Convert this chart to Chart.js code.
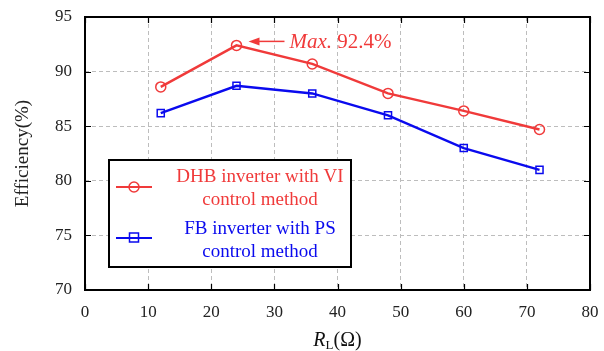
<!DOCTYPE html>
<html>
<head>
<meta charset="utf-8">
<script src="https://cdn.jsdelivr.net/npm/chart.js@4"></script>
<style>
  html, body { margin: 0; padding: 0; background: #fff; }
  #wrap { width: 604px; height: 351px; }
</style>
</head>
<body>
<div id="wrap"><canvas id="chart"></canvas></div>
<script>
// data
const loads = [12, 24, 36, 48, 60, 72];
const dhbEff = [88.6, 92.4, 90.7, 88.0, 86.4, 84.7];
const fbEff = [86.2, 88.7, 88.0, 86.0, 83.0, 81.0];
const xTicks = [0, 10, 20, 30, 40, 50, 60, 70, 80];
const yTicks = [70, 75, 80, 85, 90, 95];
const seriesNames = [['DHB inverter with VI', 'control method'], ['FB inverter with PS', 'control method']];

const RED = '#f03a3a';
const BLUE = '#0a0aee';
const SERIF = '"Liberation Serif", "Times New Roman", serif';

// box, inward ticks, axis title, annotation and legend
const decorations = {
  id: 'decorations',
  afterDraw(chart) {
    const ctx = chart.ctx;
    const { left, right, top, bottom } = chart.chartArea;
    const xs = chart.scales.x, ys = chart.scales.y;
    ctx.save();

    // inward tick marks on all four sides
    ctx.strokeStyle = '#000';
    ctx.lineWidth = 1.2;
    ctx.beginPath();
    xTicks.forEach(v => {
      const px = Math.round(xs.getPixelForValue(v)) + 0.5;
      ctx.moveTo(px, bottom); ctx.lineTo(px, bottom - 6);
      ctx.moveTo(px, top); ctx.lineTo(px, top + 6);
    });
    yTicks.forEach(v => {
      const py = Math.round(ys.getPixelForValue(v)) + 0.5;
      ctx.moveTo(left, py); ctx.lineTo(left + 6, py);
      ctx.moveTo(right, py); ctx.lineTo(right - 6, py);
    });
    ctx.stroke();

    // frame
    ctx.lineWidth = 2;
    ctx.strokeRect(left, top, right - left, bottom - top);

    // x axis title: R_L(Ω)
    ctx.fillStyle = '#111';
    ctx.textBaseline = 'alphabetic';
    const cx = (left + right) / 2;
    const by = 346;
    ctx.font = 'italic 20px ' + SERIF;
    const wR = ctx.measureText('R').width;
    ctx.font = '13px ' + SERIF;
    const wL = ctx.measureText('L').width;
    ctx.font = '20px ' + SERIF;
    const wRest = ctx.measureText('(Ω)').width;
    let x0 = cx - (wR + wL + wRest) / 2;
    ctx.textAlign = 'left';
    ctx.font = 'italic 20px ' + SERIF;
    ctx.fillText('R', x0, by);
    ctx.font = '13px ' + SERIF;
    ctx.fillText('L', x0 + wR, by + 3);
    ctx.font = '20px ' + SERIF;
    ctx.fillText('(Ω)', x0 + wR + wL, by);

    // annotation at the maximum
    const iMax = dhbEff.indexOf(Math.max(...dhbEff));
    const mx = xs.getPixelForValue(loads[iMax]);
    const my = ys.getPixelForValue(dhbEff[iMax]);
    const tipX = mx + 12, tipY = my - 4, tailX = mx + 48;
    ctx.strokeStyle = RED;
    ctx.fillStyle = RED;
    ctx.lineWidth = 1.5;
    ctx.beginPath();
    ctx.moveTo(tailX, tipY); ctx.lineTo(tipX + 6, tipY);
    ctx.stroke();
    ctx.beginPath();
    ctx.moveTo(tipX, tipY);
    ctx.lineTo(tipX + 11, tipY - 4);
    ctx.lineTo(tipX + 11, tipY + 4);
    ctx.closePath();
    ctx.fill();
    ctx.font = 'italic 21px ' + SERIF;
    ctx.textBaseline = 'middle';
    const tx = tailX + 5;
    ctx.fillText('Max.', tx, tipY + 1);
    const wMax = ctx.measureText('Max. ').width;
    ctx.font = '21px ' + SERIF;
    ctx.fillText(Math.max(...dhbEff).toFixed(1) + '%', tx + wMax, tipY + 1);

    // legend
    const lx = 109, ly = 160, lw = 242, lh = 107;
    ctx.fillStyle = '#fff';
    ctx.fillRect(lx, ly, lw, lh);
    ctx.strokeStyle = '#000';
    ctx.lineWidth = 2;
    ctx.strokeRect(lx, ly, lw, lh);
    const rows = [
      { color: RED, shape: 'circle', lineY: 187, textY: [177, 200], lines: seriesNames[0] },
      { color: BLUE, shape: 'rect', lineY: 238, textY: [229, 252], lines: seriesNames[1] }
    ];
    rows.forEach(r => {
      ctx.strokeStyle = r.color;
      ctx.lineWidth = 2.2;
      ctx.beginPath();
      ctx.moveTo(116, r.lineY); ctx.lineTo(152, r.lineY);
      ctx.stroke();
      ctx.lineWidth = 1.5;
      ctx.beginPath();
      if (r.shape === 'circle') {
        ctx.arc(134, r.lineY, 5, 0, Math.PI * 2);
      } else {
        ctx.rect(129.5, r.lineY - 5, 9, 9);
      }
      ctx.stroke();
      ctx.fillStyle = r.color;
      ctx.font = '19px ' + SERIF;
      ctx.textAlign = 'center';
      ctx.textBaseline = 'middle';
      ctx.fillText(r.lines[0], 260, r.textY[0]);
      ctx.fillText(r.lines[1], 260, r.textY[1]);
    });

    ctx.restore();
  }
};

const ctx = document.getElementById('chart').getContext('2d');
new Chart(ctx, {
  type: 'line',
  data: {
    datasets: [
      {
        label: seriesNames[0].join(' '),
        data: loads.map((x, i) => ({ x, y: dhbEff[i] })),
        borderColor: RED,
        borderWidth: 2.4,
        pointStyle: 'circle',
        pointRadius: 5,
        pointBorderWidth: 1.5,
        pointBackgroundColor: 'rgba(255,255,255,0)',
        pointBorderColor: RED,
        tension: 0
      },
      {
        label: seriesNames[1].join(' '),
        data: loads.map((x, i) => ({ x, y: fbEff[i] })),
        borderColor: BLUE,
        borderWidth: 2.4,
        pointStyle: 'rect',
        pointRadius: 5,
        pointBorderWidth: 1.5,
        pointBackgroundColor: 'rgba(255,255,255,0)',
        pointBorderColor: BLUE,
        tension: 0
      }
    ]
  },
  options: {
    responsive: true,
    maintainAspectRatio: false,
    animation: false,
    layout: { padding: { top: 17, right: 14, left: 12, bottom: 0 } },
    plugins: {
      legend: { display: false },
      tooltip: { enabled: false }
    },
    scales: {
      x: {
        type: 'linear',
        min: 0,
        max: 80,
        afterBuildTicks: s => { s.ticks = xTicks.map(v => ({ value: v })); },
        afterFit: s => { s.height = 61; s.paddingLeft = 0; s.paddingRight = 0; },
        grid: { color: '#bdbdbd', lineWidth: 1, drawTicks: false },
        border: { display: false, dash: [4, 3] },
        ticks: {
          padding: 12,
          color: '#222',
          font: { family: SERIF, size: 17 }
        }
      },
      y: {
        min: 70,
        max: 95,
        afterBuildTicks: s => { s.ticks = yTicks.map(v => ({ value: v })); },
        afterFit: s => { s.width = 73; s.paddingTop = 0; s.paddingBottom = 0; },
        grid: { color: '#bdbdbd', lineWidth: 1, drawTicks: false },
        border: { display: false, dash: [4, 3] },
        ticks: {
          padding: 13,
          color: '#222',
          font: { family: SERIF, size: 17 }
        },
        title: {
          display: true,
          text: 'Efficiency(%)',
          color: '#222',
          font: { family: SERIF, size: 19 },
          padding: { top: 0, bottom: 8 }
        }
      }
    }
  },
  plugins: [decorations]
});
</script>
</body>
</html>
